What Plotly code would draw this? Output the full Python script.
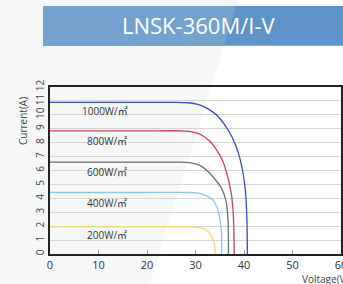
import plotly.graph_objects as go

# ---- data ----
irradiance_labels = ["1000W/㎡", "800W/㎡", "600W/㎡", "400W/㎡", "200W/㎡"]

v_1000 = [0, 20.0, 26.0, 28.5, 30.5, 32.5, 34.3, 36.0, 37.6, 38.8, 39.7, 40.3, 40.6, 40.7]
i_1000 = [10.9, 10.9, 10.9, 10.87, 10.75, 10.45, 10.0, 9.3, 8.35, 7.3, 6.0, 4.5, 2.5, 0]

v_800 = [0, 20.0, 27.0, 29.0, 31.0, 32.8, 34.4, 35.6, 36.6, 37.4, 37.8, 38.0]
i_800 = [8.85, 8.85, 8.85, 8.8, 8.6, 8.15, 7.45, 6.7, 5.6, 4.3, 2.8, 0]

v_600 = [0, 20.0, 27.0, 29.0, 31.0, 32.8, 34.2, 35.4, 36.3, 36.7, 36.8]
i_600 = [6.6, 6.6, 6.6, 6.55, 6.35, 5.85, 5.3, 4.7, 3.8, 2.5, 0]

v_400 = [0, 20.0, 28.5, 30.5, 32.2, 33.5, 34.4, 35.0, 35.35, 35.4]
i_400 = [4.42, 4.42, 4.42, 4.38, 4.2, 3.9, 3.4, 2.6, 1.5, 0]

v_200 = [0, 20.0, 29.0, 31.0, 32.3, 33.3, 33.9, 34.1]
i_200 = [1.95, 1.95, 1.95, 1.9, 1.72, 1.3, 0.7, 0]

label_v = [6.2, 7.2, 7.2, 7.2, 7.2]
label_i = [10.25, 8.1, 5.9, 3.65, 1.35]

x_ticks = [0, 10, 20, 30, 40, 50, 60]
y_ticks = list(range(0, 13))

title_text = "LNSK-360M/I-V"
y_title = "Current(A)"
x_title = "Voltage(V)"

# ---- styles ----
colors = ["#3b4cb8", "#cc3d6a", "#6e6e6e", "#8cc6ee", "#eedd66"]
W, H = 343, 284
ML, MR, MT, MB = 50, 2, 87, 30
PW, PH = W - ML - MR, H - MT - MB


def px(x):
    return (x - ML) / PW


def py(y):
    return (H - MB - y) / PH


fig = go.Figure()
series = [(v_1000, i_1000), (v_800, i_800), (v_600, i_600), (v_400, i_400), (v_200, i_200)]
for (v, i), c, name in zip(series, colors, irradiance_labels):
    fig.add_trace(go.Scatter(x=v, y=i, mode="lines", name=name,
                             line=dict(color=c, width=1.3, shape="spline", smoothing=0.6),
                             hoverinfo="skip"))

for name, lv, li in zip(irradiance_labels, label_v, label_i):
    fig.add_annotation(x=lv, y=li, text=name, showarrow=False, xanchor="left", yanchor="middle",
                       font=dict(family="Open Sans, Noto Sans CJK SC", size=10, color="#333333"))


def xedge(y):
    return 238 - 0.31 * y


shapes = [
    dict(type="path", xref="paper", yref="paper", layer="below",
         path=f"M {px(-5)},{py(-5)} L {px(xedge(-5))},{py(-5)} L {px(xedge(H + 5))},{py(H + 5)} L {px(-5)},{py(H + 5)} Z",
         fillcolor="#f6f8f8", line=dict(width=0)),
    dict(type="rect", xref="paper", yref="paper", x0=px(43), x1=px(W + 5), y0=py(6), y1=py(45.7),
         fillcolor="#5f92c8", line=dict(width=0)),
    dict(type="path", xref="paper", yref="paper",
         path=f"M {px(43)},{py(6)} L {px(xedge(6))},{py(6)} L {px(xedge(45.7))},{py(45.7)} L {px(43)},{py(45.7)} Z",
         fillcolor="#75a1cf", line=dict(width=0)),
]

fig.add_annotation(xref="paper", yref="paper", x=px(198), y=py(25), text=title_text, showarrow=False,
                   xanchor="center", yanchor="middle",
                   font=dict(family="Open Sans", size=22, color="#ffffff"))
fig.add_annotation(xref="paper", yref="paper", x=px(23), y=py(121), text=y_title, showarrow=False,
                   textangle=-90, xanchor="center", yanchor="middle",
                   font=dict(family="Open Sans", size=10, color="#444444"))
fig.add_annotation(xref="paper", yref="paper", x=px(300), y=py(279), text=x_title, showarrow=False,
                   xanchor="left", yanchor="middle",
                   font=dict(family="Open Sans", size=10, color="#444444"))

fig.update_layout(
    width=W, height=H, margin=dict(l=ML, r=MR, t=MT, b=MB, autoexpand=False),
    paper_bgcolor="#ffffff", plot_bgcolor="rgba(0,0,0,0)",
    showlegend=False, shapes=shapes,
    xaxis=dict(range=[0, 60], tickvals=x_ticks, showgrid=False, zeroline=False, automargin=False,
               showline=True, linecolor="#222222", linewidth=2, mirror=True,
               ticks="inside", ticklen=4, tickcolor="#999999", tickwidth=1,
               ticklabeloverflow="allow",
               tickfont=dict(family="Open Sans", size=11, color="#333333")),
    yaxis=dict(range=[0, 12], tickvals=y_ticks, showgrid=True, gridcolor="#d6d6d6", gridwidth=1.2,
               zeroline=False, showline=True, linecolor="#222222", linewidth=1.5, mirror=True,
               ticks="", tickangle=-90, automargin=False,
               tickfont=dict(family="Open Sans", size=10, color="#444444")),
)

fig.write_html("out.html", config={"displayModeBar": False},
               post_script="document.body.style.margin='0';document.body.style.overflow='hidden';")
